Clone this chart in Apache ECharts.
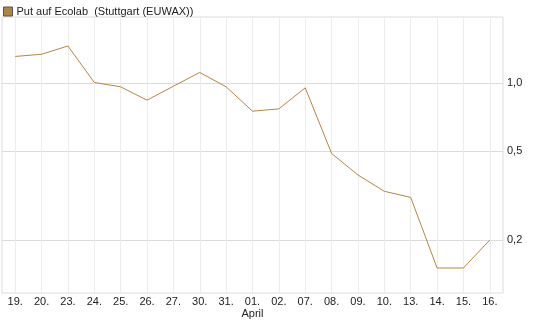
<!DOCTYPE html>
<html>
<head>
<meta charset="utf-8">
<script src="https://cdn.jsdelivr.net/npm/echarts@6/dist/echarts.min.js"></script>
<style>
  html, body { margin: 0; padding: 0; background: #fff; }
  #main { width: 545px; height: 327px; }
</style>
</head>
<body>
<div id="main"></div>
<script>
var days = ['19.', '20.', '23.', '24.', '25.', '26.', '27.', '30.', '31.', '01.', '02.', '07.', '08.', '09.', '10.', '13.', '14.', '15.', '16.'];
var prices = [1.32, 1.35, 1.47, 1.01, 0.966, 0.842, 0.972, 1.12, 0.966, 0.752, 0.77, 0.956, 0.487, 0.39, 0.33, 0.31, 0.15, 0.15, 0.2];
var yTicks = [0.2, 0.5, 1.0];
var seriesName = 'Put auf Ecolab  (Stuttgart (EUWAX))';

var myChart = echarts.init(document.getElementById('main'));
var option = {
  animation: false,
  textStyle: { fontFamily: 'Liberation Sans, Arial, sans-serif' },
  legend: {
    left: -2,
    top: 1,
    icon: 'rect',
    itemWidth: 9,
    itemHeight: 9,
    itemGap: 5,
    textStyle: { fontSize: 11, color: '#222', padding: [0, 0, 0, -1] },
    itemStyle: { color: '#b08443', borderColor: '#555', borderWidth: 1 },
    data: [seriesName]
  },
  grid: {
    left: 2,
    right: 42,
    top: 17,
    bottom: 34,
    show: true,
    borderColor: '#dcdcdc',
    borderWidth: 1
  },
  xAxis: {
    type: 'category',
    data: days,
    boundaryGap: true,
    axisLine: { show: false },
    axisTick: { show: false, alignWithLabel: true },
    axisLabel: {
      color: '#222',
      fontSize: 11,
      margin: 3,
      lineHeight: 12,
      interval: 0,
      formatter: function (v, i) { return v === '01.' ? v + '\nApril' : v; }
    },
    splitLine: { show: true, alignWithLabel: true, lineStyle: { color: '#ececec', width: 1 } }
  },
  yAxis: {
    type: 'log',
    position: 'right',
    min: 0.116,
    max: 1.98,
    axisLine: { show: false },
    axisTick: { show: false, customValues: yTicks },
    axisLabel: {
      customValues: yTicks,
      color: '#222',
      fontSize: 11,
      margin: 4,
      formatter: function (v) { return v.toFixed(1).replace('.', ','); }
    },
    splitLine: { show: true, lineStyle: { color: '#dcdcdc', width: 1 } }
  },
  series: [{
    name: seriesName,
    type: 'line',
    data: prices,
    showSymbol: false,
    color: '#b08443',
    lineStyle: { color: '#b5863c', width: 1 }
  }]
};
myChart.setOption(option);
</script>
</body>
</html>
